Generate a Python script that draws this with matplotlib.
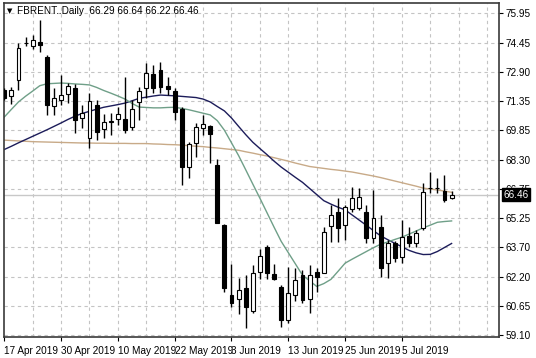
import matplotlib
matplotlib.use("Agg")
import matplotlib.pyplot as plt
import matplotlib.transforms as mtransforms
from matplotlib import font_manager
import numpy as np

# ---------------- data ----------------
opens = [71.93, 71.62, 72.45, 74.37, 74.26, 74.46, 73.65, 71.11, 71.41, 71.71,
         72.02, 70.45, 69.44, 71.15, 69.89, 70.26, 70.42, 70.42, 70.01, 71.32,
         72.02, 72.77, 72.98, 72.14, 71.88, 70.92, 67.92, 69.14, 69.96, 70.05,
         68.01, 64.87, 61.20, 60.98, 61.58, 60.37, 62.42, 63.73, 62.29, 61.64,
         59.89, 61.20, 62.27, 61.00, 62.43, 62.38, 64.83, 65.56, 64.86, 65.70,
         65.77, 65.56, 64.17, 64.78, 62.86, 63.91, 63.21, 64.31, 63.91, 64.69,
         66.78, 66.83, 66.65, 66.29]
highs = [72.04, 72.11, 74.38, 74.72, 74.79, 75.60, 73.77, 72.02, 72.72, 72.30,
         72.23, 71.15, 71.76, 71.41, 70.66, 70.73, 71.06, 72.62, 71.41, 72.11,
         73.33, 73.24, 73.42, 72.63, 72.02, 71.06, 69.23, 70.19, 70.63, 70.10,
         68.31, 64.92, 62.83, 62.08, 62.25, 62.77, 63.62, 63.82, 62.83, 61.70,
         62.67, 62.60, 62.51, 62.77, 62.59, 64.76, 65.91, 66.27, 65.91, 66.87,
         66.79, 65.91, 66.70, 65.39, 64.08, 64.03, 65.13, 64.78, 64.60, 67.05,
         67.64, 67.31, 67.48, 66.64]
lows = [71.41, 71.20, 71.93, 74.24, 74.08, 73.94, 70.63, 70.63, 71.15, 71.25,
        69.67, 69.95, 68.88, 69.32, 69.41, 69.58, 70.10, 69.68, 69.84, 70.36,
        71.50, 71.76, 71.76, 71.67, 70.36, 66.96, 67.31, 68.44, 69.58, 68.10,
        64.96, 61.38, 60.59, 60.20, 59.46, 60.26, 62.06, 62.06, 61.99, 59.55,
        59.72, 60.91, 60.78, 60.26, 61.38, 62.33, 63.99, 63.99, 64.08, 65.56,
        65.65, 63.91, 63.91, 62.16, 62.08, 62.91, 62.86, 63.73, 63.73, 64.60,
        66.54, 66.54, 66.06, 66.22]
closes = [71.52, 71.93, 74.12, 74.42, 74.55, 74.29, 71.15, 71.53, 71.67, 72.12,
          70.36, 70.71, 71.36, 69.75, 70.24, 70.31, 70.68, 69.84, 70.92, 71.90,
          72.81, 72.02, 72.08, 71.97, 70.80, 67.92, 69.11, 69.98, 70.14, 69.63,
          64.99, 61.55, 60.77, 61.46, 60.56, 62.34, 63.25, 62.37, 62.03, 59.89,
          61.29, 61.99, 60.94, 62.25, 62.16, 64.52, 65.39, 64.69, 65.83, 66.27,
          66.35, 64.17, 65.22, 62.60, 63.91, 63.16, 64.26, 63.91, 64.43, 66.61,
          66.80, 66.80, 66.18, 66.46]

ma_fast = [70.52, 70.92, 71.31, 71.61, 71.88, 72.16, 72.26, 72.28, 72.30, 72.28,
           72.25, 72.23, 72.20, 72.07, 71.91, 71.77, 71.62, 71.46, 71.23, 71.04,
           71.02, 71.00, 71.00, 71.02, 71.03, 70.97, 70.90, 70.81, 70.72, 70.63,
           70.33, 69.83, 69.17, 68.50, 67.76, 67.01, 66.27, 65.51, 64.75, 64.01,
           63.42, 62.83, 62.24, 61.95, 61.65, 61.80, 62.02, 62.44, 62.87, 63.08,
           63.28, 63.48, 63.68, 63.86, 63.98, 64.11, 64.23, 64.39, 64.55, 64.72,
           64.86, 65.01, 65.05, 65.08]
ma_mid = [68.82, 68.99, 69.17, 69.34, 69.51, 69.68, 69.85, 70.03, 70.21, 70.40,
          70.57, 70.71, 70.82, 70.93, 71.03, 71.10, 71.17, 71.25, 71.37, 71.50,
          71.56, 71.62, 71.67, 71.65, 71.63, 71.60, 71.57, 71.54, 71.46, 71.31,
          71.07, 70.84, 70.47, 70.03, 69.60, 69.20, 68.87, 68.55, 68.21, 67.90,
          67.63, 67.36, 67.10, 66.78, 66.46, 66.14, 65.96, 65.80, 65.66, 65.39,
          65.12, 64.85, 64.57, 64.30, 64.10, 63.91, 63.73, 63.54, 63.41, 63.32,
          63.33, 63.48, 63.69, 63.90]
ma_slow = [69.31, 69.29, 69.27, 69.25, 69.23, 69.22, 69.21, 69.20, 69.19, 69.18,
           69.17, 69.16, 69.16, 69.15, 69.15, 69.14, 69.14, 69.14, 69.13, 69.13,
           69.13, 69.11, 69.10, 69.08, 69.07, 69.05, 69.02, 68.99, 68.97, 68.93,
           68.90, 68.86, 68.82, 68.78, 68.70, 68.63, 68.55, 68.48, 68.39, 68.30,
           68.21, 68.11, 68.02, 67.93, 67.88, 67.83, 67.78, 67.74, 67.69, 67.64,
           67.57, 67.50, 67.43, 67.35, 67.26, 67.17, 67.08, 66.99, 66.90, 66.80,
           66.75, 66.70, 66.64, 66.58]

date_labels = ["17 Apr 2019", "30 Apr 2019", "10 May 2019", "22 May 2019",
               "3 Jun 2019", "13 Jun 2019", "25 Jun 2019", "5 Jul 2019"]
price_labels = ["59.10", "60.65", "62.20", "63.70", "65.25", "66.75",
                "68.30", "69.85", "71.35", "72.90", "74.45", "75.95"]
last_price = 66.46
symbol = "FBRENT..Daily"
ohlc_text = "66.29 66.64 66.22 66.46"

# ---------------- style ----------------
names = {f.name for f in font_manager.fontManager.ttflist}
fam = "Liberation Sans Narrow" if "Liberation Sans Narrow" in names else "Liberation Sans"
plt.rcParams["font.family"] = [fam, "DejaVu Sans"]

W, H = 536, 358
fig = plt.figure(figsize=(W / 100, H / 100), dpi=100)
fig.patch.set_facecolor("white")
ax_left, ax_right, ax_top, ax_bot = 3.5, 499.0, 2.7, 337.3
ax = fig.add_axes([ax_left / W, 1 - ax_bot / H, (ax_right - ax_left) / W, (ax_bot - ax_top) / H])

n = len(closes)
x = np.arange(n)
step = 7.1
x0 = 4.3
ax.set_xlim((ax_left - x0) / step, (ax_right - x0) / step)
ax.set_ylim(58.988, 76.505)

grid_col = "#c4c4c4"
tick_pos = np.linspace(float(price_labels[0]), float(price_labels[-1]), len(price_labels))
for yv in tick_pos:
    ax.axhline(yv, color=grid_col, lw=0.8, ls=(0, (3, 3)), zorder=0)
for xv in range(4, 72, 4):
    ax.axvline(xv, color=grid_col, lw=0.8, ls=(0, (3, 3)), zorder=0)

# current price line
ax.axhline(last_price, color="#c8c8c8", lw=1.0, zorder=1)

# moving averages
ax.plot(x, ma_slow, color="#c8aa88", lw=1.0, zorder=2)
ax.plot(x, ma_mid, color="#1c1c5a", lw=1.0, zorder=2)
ax.plot(x, ma_fast, color="#6f9f88", lw=1.0, zorder=2)

# candles
o = np.array(opens); c = np.array(closes)
up = c >= o
ax.vlines(x, lows, highs, color="black", lw=1.0, zorder=3)
body_w = 0.55
ax.bar(x[up], (c - o)[up], bottom=o[up], width=body_w, color="white",
       edgecolor="black", linewidth=0.8, zorder=4)
ax.bar(x[~up], (c - o)[~up], bottom=o[~up], width=body_w, color="black",
       edgecolor="black", linewidth=0.8, zorder=4)

# axes
for s in ax.spines.values():
    s.set_color("#3a3a3a")
    s.set_linewidth(1.2)

ax.yaxis.tick_right()
ax.set_yticks(tick_pos)
ax.set_yticklabels(price_labels)
ax.tick_params(axis="y", length=3, width=0.8, pad=2, labelsize=7.2, colors="black")
ax.set_xticks(np.arange(0, 8 * len(date_labels), 8))
ax.set_xticklabels(date_labels)
ax.tick_params(axis="x", length=3, width=0.8, pad=3, labelsize=7.2, colors="black")
for lab in ax.get_xticklabels():
    lab.set_horizontalalignment("left")

# last price tag
trans = mtransforms.blended_transform_factory(ax.transAxes, ax.transData)
ax.text(1.009, last_price, f"{last_price:.2f}", transform=trans, color="white",
        fontsize=7.2, va="center", ha="left", clip_on=False, zorder=10,
        bbox=dict(boxstyle="square,pad=0.12", facecolor="black", edgecolor="black"))

# header
fig.text(10 / W, 1 - 11 / H, "\u25BC", fontsize=5, va="center", ha="center",
         family="DejaVu Sans", color="black")
fig.text(17 / W, 1 - 11 / H, symbol + "  " + ohlc_text, fontsize=7.2,
         va="center", ha="left", color="black")

fig.savefig("out.png", dpi=100, facecolor="white")
